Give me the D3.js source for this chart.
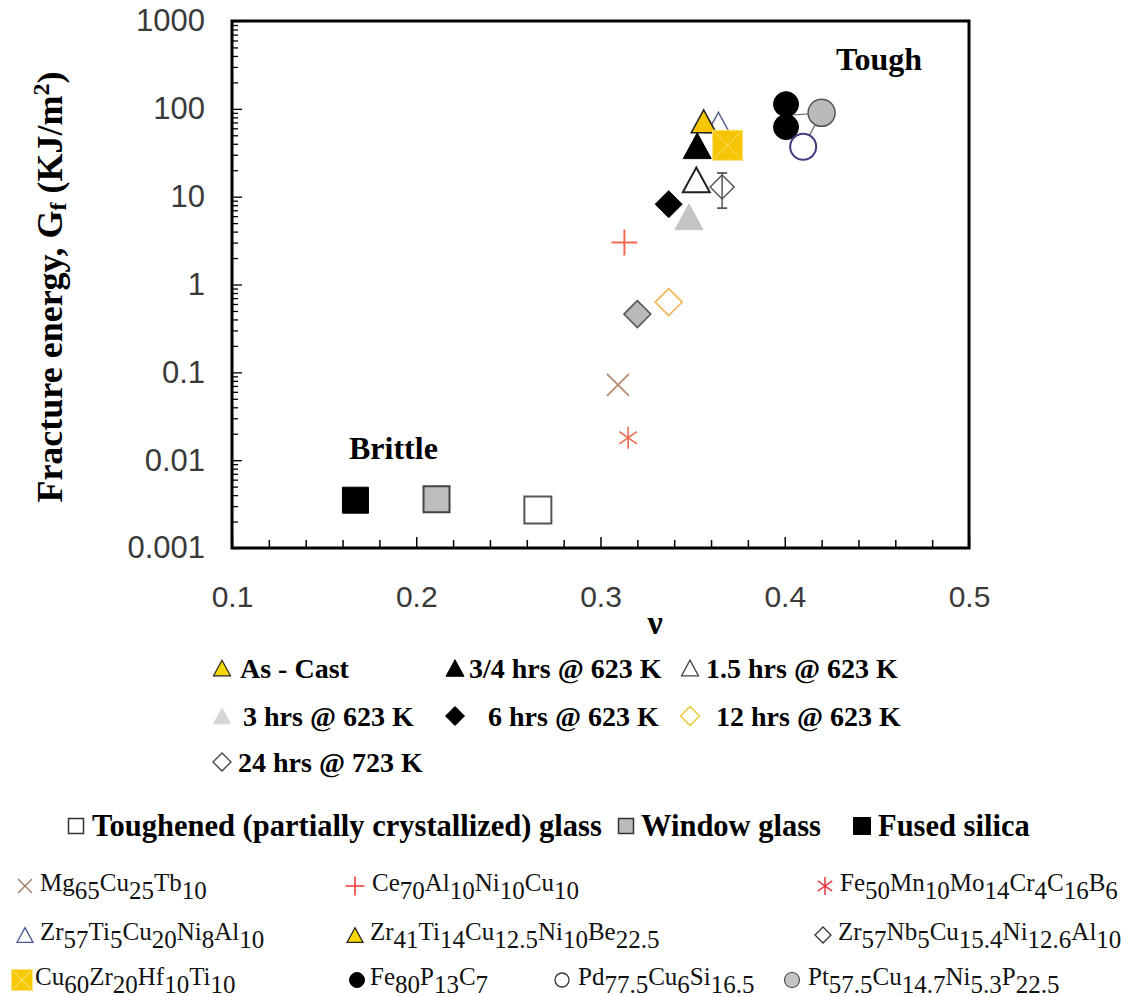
<!DOCTYPE html>
<html>
<head>
<meta charset="utf-8">
<script src="https://cdn.jsdelivr.net/npm/d3@7"></script>
<style>
  body { margin: 0; background: #fff; }
  svg { display: block; }
</style>
</head>
<body>
<div id="chart"></div>
<script>
// data
const materials = ["Fused silica", "Window glass", "Toughened glass", "Mg65Cu25Tb10",
  "Fe50Mn10Mo14Cr4C16B6", "Ce70Al10Ni10Cu10", "24 hrs @ 723 K", "12 hrs @ 623 K",
  "6 hrs @ 623 K", "3 hrs @ 623 K", "1.5 hrs @ 623 K", "Zr57Nb5Cu15.4Ni12.6Al10",
  "Zr57Ti5Cu20Ni8Al10", "As - Cast", "3/4 hrs @ 623 K", "Cu60Zr20Hf10Ti10",
  "Fe80P13C7 (a)", "Fe80P13C7 (b)", "Pt57.5Cu14.7Ni5.3P22.5", "Pd77.5Cu6Si16.5"];
const poissonRatio = [0.167, 0.211, 0.266, 0.3095, 0.315, 0.313, 0.320, 0.337,
  0.337, 0.348, 0.352, 0.366, 0.364, 0.356, 0.3525, 0.369, 0.4007, 0.4007, 0.420, 0.410];
const fractureEnergy = [0.0035, 0.0036, 0.0027, 0.072, 0.018, 3.0, 0.46, 0.63,
  8.2, 5.9, 15.5, 12.9, 70, 72, 38, 38.5, 113, 62, 90, 37];

// error bar on the Zr57Nb5 point
const errorBarMaterial = ["Zr57Nb5Cu15.4Ni12.6Al10"];
const errorBarLow = [7.4];
const errorBarHigh = [18.6];

// thin connector between the Fe / Pt / Pd points
const linkNu = [0.4007, 0.420, 0.410];
const linkGf = [84, 90, 37];

const xTicks = [0.1, 0.2, 0.3, 0.4, 0.5];
const yTickLabels = ["0.001", "0.01", "0.1", "1", "10", "100", "1000"];

const legendTreatments = ["As - Cast", "3/4 hrs @ 623 K", "1.5 hrs @ 623 K",
  "3 hrs @ 623 K", "6 hrs @ 623 K", "12 hrs @ 623 K", "24 hrs @ 723 K"];
const legendGlasses = ["Toughened (partially crystallized) glass", "Window glass", "Fused silica"];
const legendAlloys = ["Mg65Cu25Tb10", "Ce70Al10Ni10Cu10", "Fe50Mn10Mo14Cr4C16B6",
  "Zr57Ti5Cu20Ni8Al10", "Zr41Ti14Cu12.5Ni10Be22.5", "Zr57Nb5Cu15.4Ni12.6Al10",
  "Cu60Zr20Hf10Ti10", "Fe80P13C7", "Pd77.5Cu6Si16.5", "Pt57.5Cu14.7Ni5.3P22.5"];

// marker styles
const yellow = "#f6c400";
const styles = {
  "Fused silica": {shape: "square", size: 26, fill: "#000", stroke: "#000", sw: 1},
  "Window glass": {shape: "square", size: 26, fill: "#bdbdbd", stroke: "#444", sw: 2},
  "Toughened glass": {shape: "square", size: 27, fill: "#fff", stroke: "#555", sw: 2},
  "Mg65Cu25Tb10": {shape: "times", size: 22, fill: "none", stroke: "#b88c70", sw: 1.8},
  "Fe50Mn10Mo14Cr4C16B6": {shape: "asterisk", size: 22, fill: "none", stroke: "#f26a50", sw: 1.6},
  "Ce70Al10Ni10Cu10": {shape: "plus", size: 26, fill: "none", stroke: "#f26a50", sw: 2},
  "24 hrs @ 723 K": {shape: "diamond", size: 27, fill: "#b9b9b9", stroke: "#555", sw: 1.5},
  "12 hrs @ 623 K": {shape: "diamond", size: 27, fill: "#fff", stroke: "#f4b650", sw: 1.6},
  "6 hrs @ 623 K": {shape: "diamond", size: 27, fill: "#000", stroke: "#000", sw: 1},
  "3 hrs @ 623 K": {shape: "triangle", size: 28, fill: "#c4c4c4", stroke: "#c4c4c4", sw: 1},
  "1.5 hrs @ 623 K": {shape: "triangle", size: 27, fill: "#fff", stroke: "#222", sw: 2},
  "Zr57Nb5Cu15.4Ni12.6Al10": {shape: "diamond", size: 24, fill: "none", stroke: "#555", sw: 1.5},
  "Zr57Ti5Cu20Ni8Al10": {shape: "triangle", size: 22, fill: "none", stroke: "#5a6894", sw: 1.5},
  "As - Cast": {shape: "triangle", size: 25, fill: yellow, stroke: "#222", sw: 1.5},
  "3/4 hrs @ 623 K": {shape: "triangle", size: 28, fill: "#000", stroke: "#000", sw: 1},
  "Cu60Zr20Hf10Ti10": {shape: "xsquare", size: 30, fill: yellow, stroke: "#f8e27a", sw: 1},
  "Fe80P13C7 (a)": {shape: "circle", size: 25, fill: "#000", stroke: "#000", sw: 1},
  "Fe80P13C7 (b)": {shape: "circle", size: 25, fill: "#000", stroke: "#000", sw: 1},
  "Pt57.5Cu14.7Ni5.3P22.5": {shape: "circle", size: 27, fill: "#bababa", stroke: "#555", sw: 1.5},
  "Pd77.5Cu6Si16.5": {shape: "circle", size: 26, fill: "#fff", stroke: "#3e3e7c", sw: 2}
};
const treatmentStyles = [
  {shape: "triangle", size: 17, fill: "#f5d800", stroke: "#222", sw: 1.2},
  {shape: "triangle", size: 18, fill: "#000", stroke: "#000", sw: 1},
  {shape: "triangle", size: 17, fill: "#fff", stroke: "#444", sw: 1.3},
  {shape: "triangle", size: 17, fill: "#d6d6d6", stroke: "#d6d6d6", sw: 1},
  {shape: "diamond", size: 19, fill: "#000", stroke: "#000", sw: 1},
  {shape: "diamond", size: 19, fill: "#fff", stroke: "#ecc830", sw: 1.4},
  {shape: "diamond", size: 18, fill: "#fff", stroke: "#444", sw: 1.4}
];
const glassStyles = [
  {shape: "square", size: 15, fill: "#fff", stroke: "#333", sw: 1.5},
  {shape: "square", size: 15, fill: "#bbb", stroke: "#333", sw: 1.5},
  {shape: "square", size: 17, fill: "#000", stroke: "#000", sw: 1}
];
const alloyStyles = [
  {shape: "times", size: 14, fill: "none", stroke: "#a07a64", sw: 1.4},
  {shape: "plus", size: 19, fill: "none", stroke: "#f03a3a", sw: 1.6},
  {shape: "asterisk", size: 18, fill: "none", stroke: "#ec3a44", sw: 1.5},
  {shape: "triangle", size: 16, fill: "#fff", stroke: "#4a5a96", sw: 1.3},
  {shape: "triangle", size: 16, fill: "#f5d800", stroke: "#222", sw: 1.2},
  {shape: "diamond", size: 16, fill: "#fff", stroke: "#333", sw: 1.3},
  {shape: "xsquare", size: 21, fill: "#f8c800", stroke: "#fbe58a", sw: 1},
  {shape: "circle", size: 15, fill: "#000", stroke: "#000", sw: 1},
  {shape: "circle", size: 14, fill: "#fff", stroke: "#333", sw: 1.3},
  {shape: "circle", size: 15, fill: "#c4c4c4", stroke: "#555", sw: 1.2}
];

// custom symbol types for d3.symbol, size = width in px
const shapes = {
  square: {draw(c, w) { c.rect(-w / 2, -w / 2, w, w); }},
  xsquare: {draw(c, w) { c.rect(-w / 2, -w / 2, w, w); }},
  circle: {draw(c, w) { c.moveTo(w / 2, 0); c.arc(0, 0, w / 2, 0, 2 * Math.PI); }},
  diamond: {draw(c, w) { const h = w / 2; c.moveTo(0, -h); c.lineTo(h, 0); c.lineTo(0, h); c.lineTo(-h, 0); c.closePath(); }},
  triangle: {draw(c, w) { const h = w * 0.92; c.moveTo(0, -h / 2); c.lineTo(w / 2, h / 2); c.lineTo(-w / 2, h / 2); c.closePath(); }},
  plus: {draw(c, w) { const h = w / 2; c.moveTo(-h, 0); c.lineTo(h, 0); c.moveTo(0, -h); c.lineTo(0, h); }},
  times: {draw(c, w) { const h = w / 2; c.moveTo(-h, -h); c.lineTo(h, h); c.moveTo(-h, h); c.lineTo(h, -h); }},
  asterisk: {draw(c, w) { const h = w / 2, k = h * 0.8; c.moveTo(0, -h); c.lineTo(0, h); c.moveTo(-k, -k * 0.7); c.lineTo(k, k * 0.7); c.moveTo(-k, k * 0.7); c.lineTo(k, -k * 0.7); }}
};

function marker(g, st, x, y) {
  const sym = d3.symbol().type(shapes[st.shape]).size(st.size);
  g.append("path")
    .attr("transform", "translate(" + x + "," + y + ")")
    .attr("d", sym())
    .attr("fill", st.fill)
    .attr("stroke", st.stroke)
    .attr("stroke-width", st.sw)
    .attr("stroke-linejoin", "miter");
  if (st.shape === "xsquare") {
    const h = st.size / 2 - 2;
    g.append("path")
      .attr("transform", "translate(" + x + "," + y + ")")
      .attr("d", "M" + -h + "," + -h + "L" + h + "," + h + "M" + -h + "," + h + "L" + h + "," + -h)
      .attr("stroke", st.stroke).attr("stroke-width", st.sw).attr("fill", "none");
  }
}

// chemical formula: element symbols on the baseline, numbers lowered
function formula(textSel, str, shift) {
  const parts = str.match(/[A-Z][a-z]?|[\d.]+/g);
  let low = false;
  parts.forEach(function(p) {
    const isNum = /^[\d.]+$/.test(p);
    let dy = 0;
    if (isNum && !low) { dy = shift; low = true; }
    else if (!isNum && low) { dy = -shift; low = false; }
    textSel.append("tspan").attr("dy", dy).text(p);
  });
}

const W = 1137, H = 997;
const svg = d3.select("#chart").append("svg")
    .attr("width", W)
    .attr("height", H)
    .style("background", "#fff");

const x = d3.scaleLinear().domain([0.1, 0.5]).range([232, 969]);
const y = d3.scaleLog().domain([0.001, 1000]).range([548, 21]);

// minor / major tick values
const xAll = d3.range(0, 21).map(i => +(0.1 + i * 0.02).toFixed(2));
const yAll = [];
for (let e = -3; e < 3; e++) for (let m = 1; m < 10; m++) yAll.push(+(m * Math.pow(10, e)).toPrecision(2));
yAll.push(1000);
const yMajor = yTickLabels.map(Number);

// x axis, ticks pointing inside
const xAxis = svg.append("g")
    .attr("transform", "translate(0,548)")
    .call(d3.axisBottom(x).tickValues(xAll).tickSizeInner(-8).tickSizeOuter(0).tickPadding(38)
      .tickFormat(d => xTicks.some(t => Math.abs(t - d) < 1e-6) ? String(d) : ""));
xAxis.selectAll(".tick line")
    .attr("y2", d => xTicks.some(t => Math.abs(t - d) < 1e-6) ? -11 : -8)
    .attr("stroke-width", 1.5);
xAxis.select(".domain").remove();
xAxis.selectAll("text")
    .attr("font-family", "Arial, 'Liberation Sans', sans-serif")
    .attr("font-size", 30)
    .attr("fill", "#3a3a3a");

// y axis
const yAxis = svg.append("g")
    .attr("transform", "translate(232,0)")
    .call(d3.axisLeft(y).tickValues(yAll).tickSizeInner(-6).tickSizeOuter(0).tickPadding(27)
      .tickFormat(d => {
        const i = yMajor.findIndex(v => Math.abs(v - d) / v < 1e-6);
        return i >= 0 ? yTickLabels[i] : "";
      }));
yAxis.selectAll(".tick line")
    .attr("x2", d => yMajor.some(v => Math.abs(v - d) / v < 1e-6) ? 10 : 6)
    .attr("stroke-width", 1.3);
yAxis.select(".domain").remove();
yAxis.selectAll("text")
    .attr("font-family", "Arial, 'Liberation Sans', sans-serif")
    .attr("font-size", 31)
    .attr("fill", "#3a3a3a");

// frame
svg.append("rect")
    .attr("x", x(0.1)).attr("y", y(1000))
    .attr("width", x(0.5) - x(0.1)).attr("height", y(0.001) - y(1000))
    .attr("fill", "none").attr("stroke", "#000").attr("stroke-width", 3);

const serif = "'Liberation Serif', 'Times New Roman', serif";

// axis titles
svg.append("text")
    .attr("x", 655).attr("y", 634)
    .attr("text-anchor", "middle")
    .attr("font-family", serif).attr("font-weight", "bold").attr("font-size", 34)
    .text("ν");

const yTitle = svg.append("text")
    .attr("transform", "translate(62,287) rotate(-90)")
    .attr("text-anchor", "middle")
    .attr("font-family", serif).attr("font-weight", "bold").attr("font-size", 36);
yTitle.append("tspan").text("Fracture energy, G");
yTitle.append("tspan").attr("dy", 4).style("font-size", "24px").text("f");
yTitle.append("tspan").attr("dy", -4).text(" (KJ/m");
yTitle.append("tspan").attr("dy", -13).style("font-size", "24px").text("2");
yTitle.append("tspan").attr("dy", 13).text(")");

svg.append("text")
    .attr("x", 836).attr("y", 70)
    .attr("font-family", serif).attr("font-weight", "bold").attr("font-size", 32)
    .text("Tough");
svg.append("text")
    .attr("x", 349).attr("y", 459)
    .attr("font-family", serif).attr("font-weight", "bold").attr("font-size", 32)
    .text("Brittle");

// connectors
svg.append("path")
    .datum(linkNu.map((v, i) => [v, linkGf[i]]))
    .attr("d", d3.line().x(d => x(d[0])).y(d => y(d[1])))
    .attr("fill", "none").attr("stroke", "#666").attr("stroke-width", 1.2);

// error bar
const plot = svg.append("g");
errorBarMaterial.forEach(function(name, i) {
  const xi = x(poissonRatio[materials.indexOf(name)]);
  plot.append("line").attr("x1", xi).attr("x2", xi)
      .attr("y1", y(errorBarLow[i])).attr("y2", y(errorBarHigh[i]))
      .attr("stroke", "#555").attr("stroke-width", 1.5);
  [errorBarLow[i], errorBarHigh[i]].forEach(v => {
    plot.append("line").attr("x1", xi - 5).attr("x2", xi + 5)
        .attr("y1", y(v)).attr("y2", y(v))
        .attr("stroke", "#555").attr("stroke-width", 1.8);
  });
});

// points
materials.forEach(function(name, i) {
  marker(plot, styles[name], x(poissonRatio[i]), y(fractureEnergy[i]));
});

// legend 1: heat treatments
const leg1Pos = [[222, 668, 240], [455, 668, 469], [690, 668, 706],
                 [222, 716, 243], [455, 716, 488], [690, 716, 716],
                 [222, 762, 238]];
legendTreatments.forEach(function(label, i) {
  const p = leg1Pos[i];
  marker(svg, treatmentStyles[i], p[0], p[1]);
  svg.append("text")
      .attr("x", p[2]).attr("y", p[1] + 10)
      .attr("font-family", serif).attr("font-weight", "bold").attr("font-size", 28)
      .text(label);
});

// legend 2: glasses
const leg2Pos = [[76, 92], [626, 641], [862, 878]];
legendGlasses.forEach(function(label, i) {
  marker(svg, glassStyles[i], leg2Pos[i][0], 826);
  svg.append("text")
      .attr("x", leg2Pos[i][1]).attr("y", 836)
      .attr("font-family", serif).attr("font-weight", "bold").attr("font-size", 30.5)
      .text(label);
});

// legend 3: alloys
const leg3Pos = [[25, 886, 40], [355, 886, 372], [825, 886, 840],
                 [25, 935, 40], [355, 935, 370], [823, 935, 838],
                 [22, 980, 35], [357, 980, 370], [562, 980, 578], [792, 980, 808]];
legendAlloys.forEach(function(label, i) {
  const p = leg3Pos[i];
  marker(svg, alloyStyles[i], p[0], p[1]);
  const t = svg.append("text")
      .attr("x", p[2]).attr("y", p[1] + 5)
      .attr("font-family", serif).attr("font-size", 25).attr("fill", "#111");
  formula(t, label, 8);
});
</script>
</body>
</html>
